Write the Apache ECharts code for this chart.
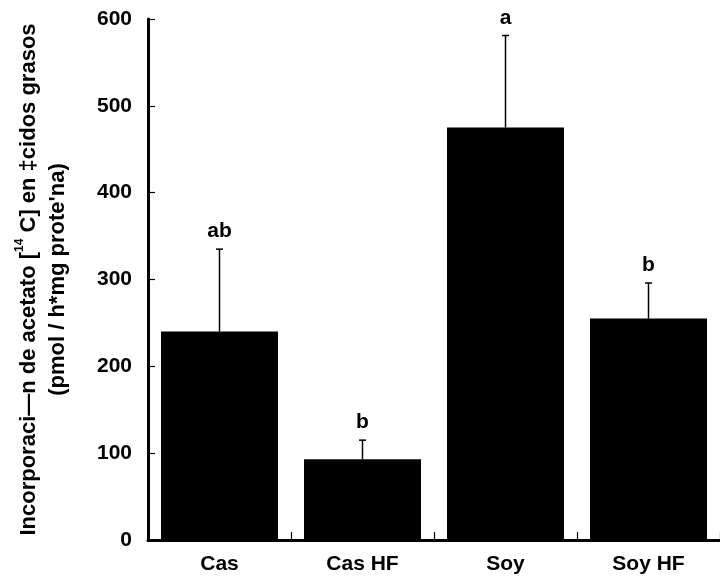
<!DOCTYPE html>
<html><head><meta charset="utf-8">
<script src="https://cdn.jsdelivr.net/npm/echarts@6/dist/echarts.min.js"></script>
<style>html,body{margin:0;padding:0;background:#fff}#c{width:720px;height:581px}</style>
</head><body><div id="c"></div>
<script>
const categories = ['Cas', 'Cas HF', 'Soy', 'Soy HF'];
const means = [240, 93, 475, 255];
const errorTops = [335, 115, 581, 296];
const letters = ['ab', 'b', 'a', 'b'];
const yTicks = [0, 100, 200, 300, 400, 500, 600];

const F = 'Liberation Sans, Arial, Helvetica, sans-serif';
const chart = echarts.init(document.getElementById('c'), null, {renderer: 'canvas'});
chart.setOption({
  animation: false,
  grid: {left: 148, right: -4, top: 19, bottom: 41},
  xAxis: {
    type: 'category', data: categories,
    axisLine: {lineStyle: {color: '#000', width: 3}},
    axisTick: {show: true, inside: true, length: 8, alignWithLabel: false, lineStyle: {color: '#000', width: 1.2}},
    axisLabel: {color: '#000', fontFamily: F, fontWeight: 'bold', fontSize: 21, margin: 14}
  },
  yAxis: {
    type: 'value', min: 0, max: 600, interval: 100,
    axisLine: {show: true, lineStyle: {color: '#000', width: 3}},
    axisTick: {show: true, inside: true, length: 7, lineStyle: {color: '#000', width: 1.2}},
    splitLine: {show: false},
    axisLabel: {color: '#000', fontFamily: F, fontWeight: 'bold', fontSize: 21, margin: 16},
    name: "Incorporaci—n de acetato [{sup|14} C] en ‡cidos grasos\n(pmol / h*mg prote'na)",
    nameLocation: 'middle', nameRotate: 90, nameGap: 76,
    nameTextStyle: {color: '#000', fontFamily: F, fontWeight: 'bold', fontSize: 22, lineHeight: 29, align: 'center',
      padding: [0, 0, 0, 0],
      rich: {sup: {fontSize: 12, fontFamily: F, fontWeight: 'bold', color: '#000', verticalAlign: 'top', padding: [0,0,10,0]}}}
  },
  series: [
    {
      type: 'bar', data: means, barWidth: 117,
      itemStyle: {color: '#000'}
    },
    {
      type: 'custom',
      data: categories.map((c, i) => [i, means[i], errorTops[i]]),
      renderItem: function (params, api) {
        const x = api.value(0);
        const lo = api.coord([x, api.value(1)]);
        const hi = api.coord([x, api.value(2)]);
        const cap = 3.5;
        return {
          type: 'group',
          children: [
            {type: 'line', shape: {x1: lo[0], y1: lo[1], x2: hi[0], y2: hi[1]}, style: {stroke: '#000', lineWidth: 1.5}},
            {type: 'line', shape: {x1: hi[0] - cap, y1: hi[1], x2: hi[0] + cap, y2: hi[1]}, style: {stroke: '#000', lineWidth: 1.5}},
            {type: 'text', x: hi[0], y: hi[1] - 7, style: {text: letters[params.dataIndex], fill: '#000', font: 'bold 21px ' + F, textAlign: 'center', textVerticalAlign: 'bottom'}}
          ]
        };
      },
      z: 5
    }
  ]
});
</script></body></html>
